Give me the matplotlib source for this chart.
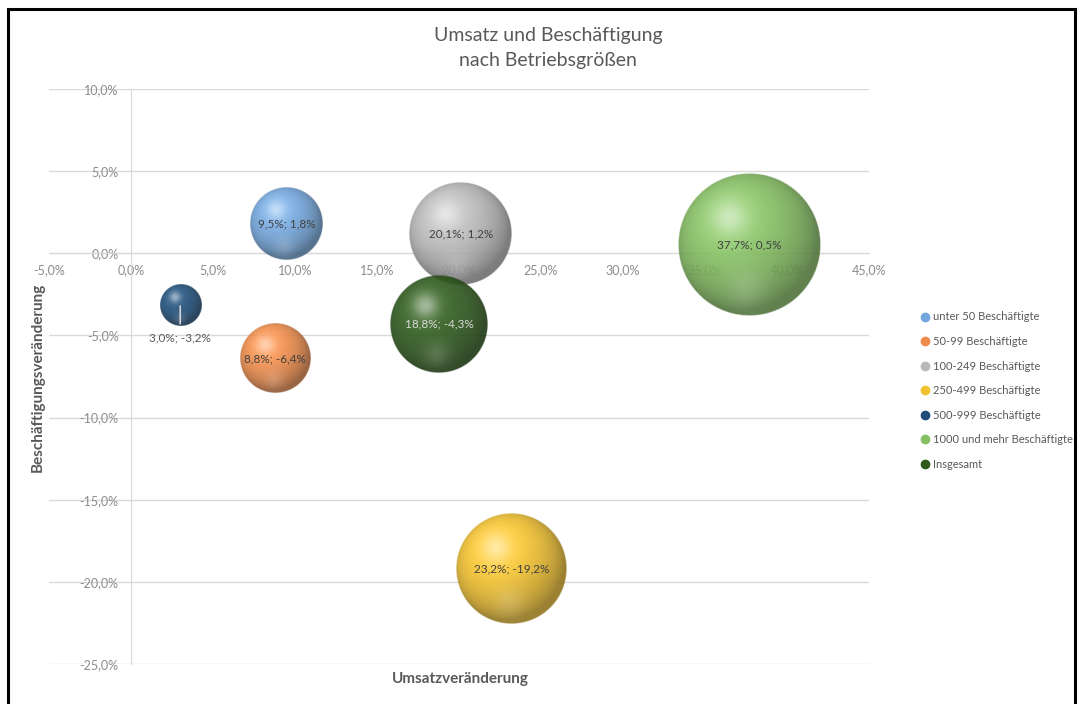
import numpy as np
import matplotlib.pyplot as plt
from matplotlib.lines import Line2D
from matplotlib.patches import Rectangle
from matplotlib.ticker import FuncFormatter

plt.rcParams['font.family'] = ['Lato', 'DejaVu Sans']

# Daten
gruppen = ['unter 50 Beschäftigte', '50-99 Beschäftigte', '100-249 Beschäftigte',
           '250-499 Beschäftigte', '500-999 Beschäftigte', '1000 und mehr Beschäftigte',
           'Insgesamt']
umsatz = [9.5, 8.8, 20.1, 23.2, 3.0, 37.7, 18.8]
beschaeftigung = [1.8, -6.4, 1.2, -19.2, -3.2, 0.5, -4.3]
blasengroesse = [53, 49, 106, 123, 17, 202, 96]
farben = ['#72A6DC', '#EF8C4A', '#B8B8B8', '#F2C12E', '#1F4E79', '#84BF61', '#2E5A1C']
label_farben = ['#404040', '#404040', '#404040', '#404040', '#404040', '#404040', '#D9D9D9']


def kugel(farbe, n=240):
    u, v = np.meshgrid(np.linspace(-1, 1, n), np.linspace(-1, 1, n))
    r = np.sqrt(u**2 + v**2)
    z = np.sqrt(np.clip(1 - r**2, 0, 1))
    licht = np.array([-0.3, 0.4, 0.87])
    licht = licht / np.linalg.norm(licht)
    diffus = np.clip(u * licht[0] + v * licht[1] + z * licht[2], 0, 1)
    base = np.array(plt.matplotlib.colors.to_rgb(farbe))
    col = base[None, None, :] * (0.6 + 0.48 * diffus)[..., None]
    glanz = 0.5 * np.exp(-((u + 0.28)**2 + (v - 0.38)**2) / 0.07)
    reflex = 0.15 * np.exp(-((u + 0.05)**2 + (v + 0.62)**2) / 0.07)
    col = col + (1 - col) * (glanz + reflex)[..., None]
    col = np.clip(col, 0, 1)
    alpha = np.clip((1 - r) * n / 2, 0, 1) * 0.9
    return np.dstack([col, alpha])


fig = plt.figure(figsize=(10.8, 7.04), dpi=100)
ax = fig.add_axes([49 / 1080, 1 - 664 / 704, 820 / 1080, 575 / 704])
ax.set_xlim(-5, 45)
ax.set_ylim(-25, 10)
ax.set_axisbelow(True)

ax.set_xticks(np.arange(-5, 46, 5))
ax.set_yticks(np.arange(-25, 11, 5))
fmt = FuncFormatter(lambda v, p: f'{v:.1f}%'.replace('.', ','))
ax.xaxis.set_major_formatter(fmt)
ax.yaxis.set_major_formatter(fmt)
ax.tick_params(length=0, labelsize=9, labelcolor='#8C8C8C')
ax.tick_params(axis='x', pad=8)
ax.tick_params(axis='y', pad=9)
ax.grid(axis='y', color='#D9D9D9', lw=1)

for s in ['top', 'right']:
    ax.spines[s].set_visible(False)
ax.spines['left'].set_position(('data', 0))
ax.spines['bottom'].set_position(('data', 0))
ax.spines['left'].set_color('#D9D9D9')
ax.spines['bottom'].set_color('#D9D9D9')

# Pixel pro Dateneinheit
breite_px = fig.get_figwidth() * fig.dpi * ax.get_position().width
hoehe_px = fig.get_figheight() * fig.dpi * ax.get_position().height
px_x = breite_px / 50
px_y = hoehe_px / 35

reihenfolge = np.argsort(blasengroesse)[::-1]
for i in reihenfolge:
    x, y = umsatz[i], beschaeftigung[i]
    r_px = 5 * np.sqrt(blasengroesse[i])
    rx, ry = r_px / px_x, r_px / px_y
    ax.imshow(kugel(farben[i]), extent=(x - rx, x + rx, y - ry, y + ry),
              origin='lower', aspect='auto', zorder=3, interpolation='bilinear')
    txt = f'{x:.1f}%; {y:.1f}%'.replace('.', ',')
    if gruppen[i] == '500-999 Beschäftigte':
        ax.annotate(txt, (x, y), xytext=(0, -23), textcoords='offset points',
                    ha='center', va='center', fontsize=8.5, color='#595959', zorder=5,
                    arrowprops=dict(arrowstyle='-', color='#E8E8E8', lw=1,
                                    shrinkA=4, shrinkB=0))
    else:
        ax.text(x, y, txt, ha='center', va='center', fontsize=8.5,
                color=label_farben[i], zorder=5)
ax.set_xlim(-5, 45)
ax.set_ylim(-25, 10)

# Titel und Achsentitel
fig.text(548 / 1080, 1 - 48 / 704, 'Umsatz und Beschäftigung\nnach Betriebsgrößen',
         ha='center', va='center', fontsize=14, color='#595959', linespacing=1.55)
fig.text(460 / 1080, 1 - 679 / 704, 'Umsatzveränderung', ha='center', va='center',
         fontsize=11, fontweight='bold', color='#595959')
fig.text(38 / 1080, 1 - 377 / 704, 'Beschäftigungsveränderung', ha='center', va='center',
         rotation=90, fontsize=11, fontweight='bold', color='#595959')

# Legende
handles = [Line2D([], [], marker='o', ls='none', markersize=6, markerfacecolor=c,
                  markeredgecolor=c) for c in farben]
fig.legend(handles, gruppen, loc='upper left', bbox_to_anchor=(915 / 1080, 1 - 307 / 704),
           frameon=False, fontsize=8, labelcolor='#595959', handletextpad=0.2,
           handlelength=1.0, labelspacing=1.22, borderaxespad=0)

# Rahmen
fig.patches.append(Rectangle((8 / 1080, -0.02), 1067 / 1080, 1.02 - 9 / 704,
                             transform=fig.transFigure, fill=False, lw=2.2,
                             edgecolor='black'))

fig.savefig('out.png', dpi=100)
